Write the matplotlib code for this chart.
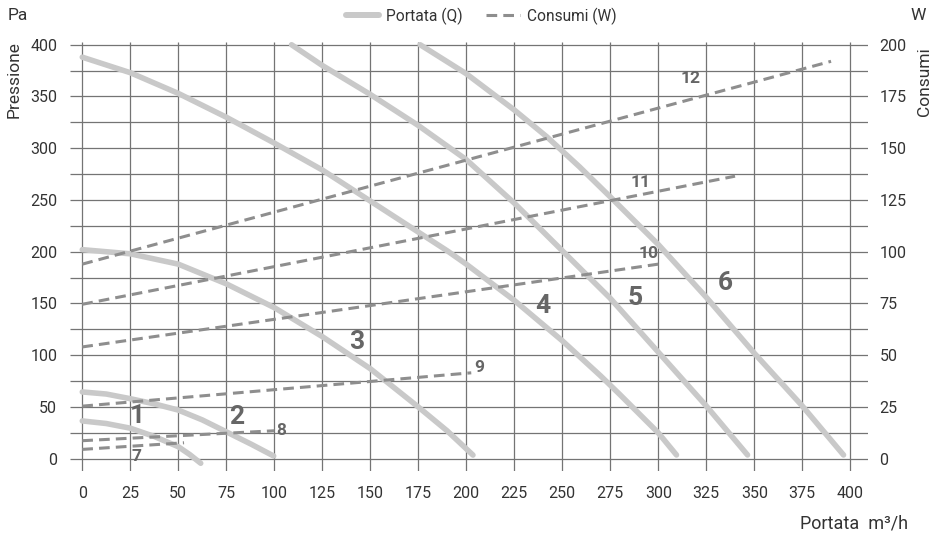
import matplotlib
matplotlib.use('Agg')
import matplotlib.pyplot as plt
from matplotlib.lines import Line2D

plt.rcParams['font.family'] = ['Roboto', 'DejaVu Sans']

# ---------------- data ----------------
# Portata (Q) curves: flow m3/h -> pressure Pa
q1 = [0, 12.5, 25, 37.5, 50, 56, 61.7]
p1 = [36.5, 34, 29.5, 21.5, 11.6, 4, -4.4]
q2 = [0, 12.5, 25, 37.5, 50, 62.5, 75, 88, 99.7]
p2 = [64.5, 62.5, 58, 53, 47, 37.5, 26, 14, 2.6]
q3 = [0, 25, 50, 75, 100, 125, 150, 175, 190, 203.5]
p3 = [202, 198, 188, 169, 146, 118, 87, 50, 27, 3.5]
q4 = [0, 25, 50, 75, 100, 125, 150, 175, 190, 200, 225, 250, 270, 280, 300, 309.5]
p4 = [388, 373, 353, 330, 305, 279, 249, 219, 201, 188, 153, 114, 80, 62, 25, 3.6]
q5 = [109, 125, 150, 175, 200, 225, 250, 275, 300, 325, 346.5]
p5 = [400, 380, 352, 322, 289, 247, 201, 155, 103, 51, 3.6]
q6 = [176, 200, 225, 242, 259, 275, 300, 325, 350, 375, 396.5]
p6 = [400, 372, 337, 311, 282, 253, 207, 156, 102, 51, 3.6]
flow_curves = [(q1, p1), (q2, p2), (q3, p3), (q4, p4), (q5, p5), (q6, p6)]

# Consumi (W) lines: flow m3/h -> power W
qw7, w7 = [0, 53], [4.5, 7.7]
qw8, w8 = [0, 100], [8.7, 13.5]
qw9, w9 = [0, 202.6], [25.4, 41.5]
qw10, w10 = [0, 300], [54, 94]
qw11, w11 = [0, 340], [74.6, 136.5]
qw12, w12 = [0, 390], [94, 192]
power_lines = [(qw7, w7), (qw8, w8), (qw9, w9), (qw10, w10), (qw11, w11), (qw12, w12)]

# curve labels (text, flow, pressure)
big_labels = [("1", 28.5, 41), ("2", 80.5, 40.5), ("3", 143, 113),
              ("4", 240, 148), ("5", 288, 155), ("6", 335, 170)]
small_labels = [("7", 28, 2.6), ("8", 103.5, 27), ("9", 207, 88),
                ("10", 295, 198), ("11", 291, 267), ("12", 316.6, 367.7)]

x_ticks = list(range(0, 401, 25))
y_ticks = list(range(0, 401, 50))
w_ticks = list(range(0, 201, 25))
grid_y = list(range(0, 401, 25))

# ---------------- figure ----------------
fig = plt.figure(figsize=(9.38, 5.38), dpi=100)
ax = fig.add_axes([0.0744, 0.1243, 0.8515, 0.7983])
ax.set_xlim(-6.5, 409.5)
ax.set_ylim(-12, 403)
for s in ax.spines.values():
    s.set_visible(False)

grid_col = '#747474'
ax.hlines(grid_y, -6.5, 409.5, colors=grid_col, lw=0.9, zorder=1)
ax.vlines(x_ticks, -12, 403, colors=grid_col, lw=0.9, zorder=1)

tick_col = '#333333'
ax.set_xticks(x_ticks)
ax.set_yticks(y_ticks)
ax.tick_params(axis='x', length=0, pad=11, labelsize=11.5, labelcolor=tick_col)
ax.tick_params(axis='y', length=0, pad=9, labelsize=11.5, labelcolor=tick_col)

for q, p in flow_curves:
    ax.plot(q, p, color='#c9c9c9', lw=4.0, solid_capstyle='round',
            solid_joinstyle='round', zorder=3)

for t, x, y in big_labels:
    ax.text(x, y, t, fontsize=19, fontweight='bold', color='#666666',
            ha='center', va='center', zorder=5)
for t, x, y in small_labels:
    ax.text(x, y, t, fontsize=12.5, fontweight='bold', color='#666666',
            ha='center', va='center', zorder=5)

ax2 = ax.twinx()
ax2.set_ylim(-6, 201.5)
for s in ax2.spines.values():
    s.set_visible(False)
ax2.set_yticks(w_ticks)
ax2.tick_params(axis='y', length=0, pad=8, labelsize=11.5, labelcolor=tick_col)

for q, w in power_lines:
    ax2.plot(q, w, color='#8e8e8e', lw=2.2, ls=(0, (3.5, 2)), zorder=4)

# axis titles
txt_kw = dict(fontsize=12.5, color=tick_col)
fig.text(8 / 938, 1 - 15 / 538, 'Pa', ha='left', va='center', **txt_kw)
fig.text(14 / 938, 1 - 80 / 538, 'Pressione', rotation=90, ha='center', va='center', **txt_kw)
fig.text(926 / 938, 1 - 16 / 538, 'W', ha='right', va='center', **txt_kw)
fig.text(924 / 938, 1 - 82 / 538, 'Consumi', rotation=90, ha='center', va='center', **txt_kw)
fig.text(908 / 938, 1 - 524 / 538, 'Portata  m³/h', ha='right', va='center',
         fontsize=13, color=tick_col)

handles = [Line2D([], [], color='#c9c9c9', lw=4.3, solid_capstyle='round'),
           Line2D([], [], color='#8e8e8e', lw=2.2, ls=(0, (3.5, 2)))]
fig.legend(handles, ['Portata (Q)', 'Consumi (W)'], loc='center',
           bbox_to_anchor=(481 / 938, 1 - 16 / 538), ncol=2, frameon=False,
           fontsize=11.2, handlelength=2.15, columnspacing=1.5, handletextpad=0.45,
           labelcolor=tick_col)

fig.savefig('out.png', dpi=100)
